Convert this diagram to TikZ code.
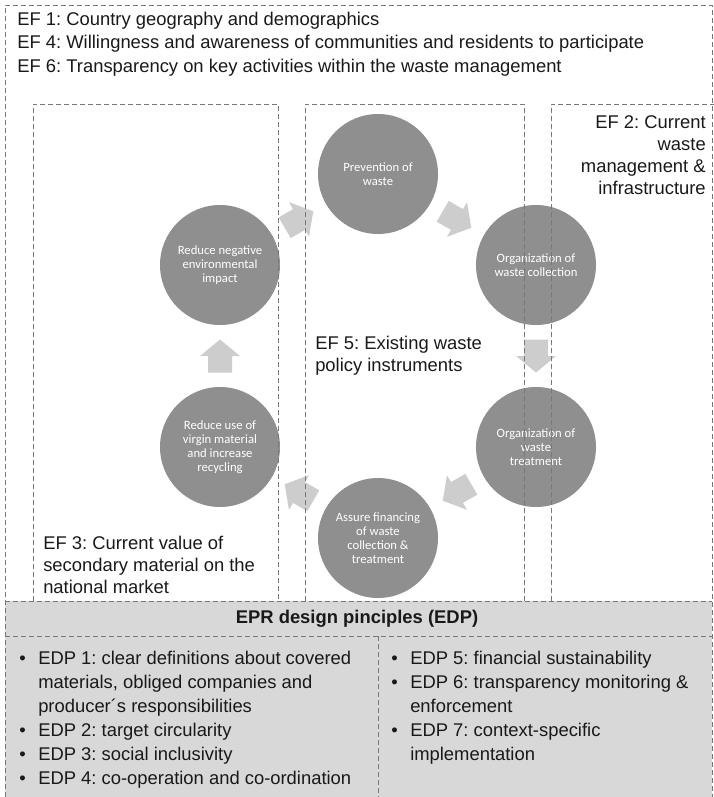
\documentclass[tikz,border=0pt]{standalone}
\usepackage{fontspec}
\setmainfont{Liberation Sans}
\newfontfamily\circfont{Carlito}
\definecolor{circgrey}{RGB}{143,143,143}
\definecolor{arrgrey}{RGB}{205,205,205}
\definecolor{panelgrey}{RGB}{216,216,216}
\definecolor{dashgrey}{RGB}{120,120,120}
\definecolor{txt}{RGB}{25,25,25}
\frenchspacing
\begin{document}
\frenchspacing
\begin{tikzpicture}[x=0.75pt,y=-0.75pt,
  circ/.style={circle, fill=circgrey, minimum size=90pt, inner sep=0pt, text=white,
    font=\circfont\fontsize{9.5}{10.4}\selectfont, align=center},
  dbox/.style={draw=dashgrey, dash pattern=on 3.5pt off 2.5pt, line width=0.6pt},
  eftext/.style={font=\fontsize{13.8}{16.5}\selectfont, inner sep=0pt, text=txt},
  listtext/.style={font=\fontsize{13.8}{18}\selectfont, inner sep=0pt, text=txt, align=left},
  blockarrow/.pic={\fill[arrgrey, rotate=#1] (-16.5,-12) -- (0,-12) -- (0,-20) -- (16.5,0) -- (0,20) -- (0,12) -- (-16.5,12) -- cycle;}
]
\useasboundingbox (0,0) rectangle (714,797);
% grey panels
\fill[panelgrey] (5,601) rectangle (712,797);
% circles
\node[circ] (prev) at (378,174) {Prevention of\\waste};
\node[circ] (coll) at (536,265) {Organization of\\waste collection};
\node[circ] (treat) at (536,447) {Organization of\\waste\\treatment};
\node[circ] (fin) at (378,538) {Assure financing\\of waste\\collection \&\\treatment};
\node[circ] (virgin) at (220,447) {Reduce use of\\virgin material\\and increase\\recycling};
\node[circ] (env) at (220,265) {Reduce negative\\environmental\\impact};
% block arrows
\pic (a1) at (457,219.5) {blockarrow=-30};
\pic (a2) at (536,356) {blockarrow=-90};
\pic (a3) at (457,492.5) {blockarrow=210};
\pic (a4) at (299,492.5) {blockarrow=150};
\pic (a5) at (220,356) {blockarrow=90};
\pic (a6) at (299,219.5) {blockarrow=30};
% dashed frames
\draw[dbox] (5,797) -- (5,5) -- (712,5) -- (712,797);
\draw[dbox] (33,601) -- (33,104) -- (278,104) -- (278,601);
\draw[dbox] (305,601) -- (305,104) -- (524,104) -- (524,601);
\draw[dbox] (551,601) -- (551,104) -- (714,104);
\draw[dbox] (5,601) -- (712,601);
\draw[dbox] (5,636) -- (712,636);
\draw[dbox] (378,636) -- (378,797);
% texts
\node[eftext, anchor=north west, align=left, font=\fontsize{13.8}{17.6}\selectfont] (ef146) at (17,11.5)
  {EF 1: Country geography and demographics\\
   EF 4: Willingness and awareness of communities and residents to participate\\
   EF 6: Transparency on key activities within the waste management};
\node[eftext, anchor=north east, align=right] (ef2) at (706,115.6)
  {EF 2: Current\\waste\\management \&\\infrastructure};
\node[eftext, anchor=north west, align=left] (ef5) at (315,335.6)
  {EF 5: Existing waste\\policy instruments};
\node[eftext, anchor=north west, align=left] (ef3) at (43,535.6)
  {EF 3: Current value of\\secondary material on the\\national market};
\node[eftext, font=\bfseries\fontsize{13.8}{16.5}\selectfont] (edp) at (357,618.5)
  {EPR design pinciples (EDP)};
\node[listtext, anchor=north west] (left) at (19,650.6)
  {\makebox[14.25pt][l]{•}EDP 1: clear definitions about covered\\
   \hspace*{14.25pt}materials, obliged companies and\\
   \hspace*{14.25pt}producer´s responsibilities\\
   \makebox[14.25pt][l]{•}EDP 2: target circularity\\
   \makebox[14.25pt][l]{•}EDP 3: social inclusivity\\
   \makebox[14.25pt][l]{•}EDP 4: co-operation and co-ordination};
\node[listtext, anchor=north west] (right) at (391,650.6)
  {\makebox[14.25pt][l]{•}EDP 5: financial sustainability\\
   \makebox[14.25pt][l]{•}EDP 6: transparency monitoring \&\\
   \hspace*{14.25pt}enforcement\\
   \makebox[14.25pt][l]{•}EDP 7: context-specific\\
   \hspace*{14.25pt}implementation};
\end{tikzpicture}
\end{document}
